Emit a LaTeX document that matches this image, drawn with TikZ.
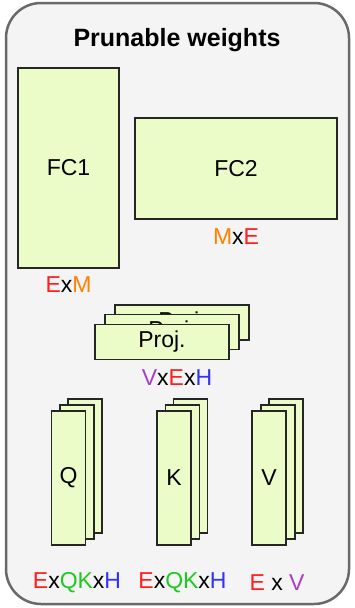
\documentclass[tikz,border=0pt]{standalone}
\usepackage{fontspec}
\setmainfont{Liberation Sans}
\definecolor{boxfill}{RGB}{236,252,200}
\definecolor{panel}{RGB}{244,244,244}
\definecolor{panelline}{RGB}{105,105,105}
\definecolor{cE}{RGB}{255,30,30}
\definecolor{cM}{RGB}{255,128,0}
\definecolor{cQK}{RGB}{30,200,30}
\definecolor{cH}{RGB}{50,50,255}
\definecolor{cV}{RGB}{170,60,200}
\tikzset{
  wbox/.style={draw=black!85, fill=boxfill, line width=1.3pt, inner sep=0pt, font=\fontsize{23}{27}\selectfont},
  dimlabel/.style={inner sep=0pt, font=\fontsize{23}{27}\selectfont},
}
\begin{document}
\begin{tikzpicture}[x=1pt,y=-1pt]
\useasboundingbox (0,0) rectangle (354,608);
\draw[fill=panel, draw=panelline, line width=2.5pt, rounded corners=35pt] (6,3) rectangle (349,604);
\node[font=\fontsize{25}{30}\selectfont\bfseries] (title) at (177,40) {Prunable weights};
% FC layers
\node[wbox, minimum width=101pt, minimum height=200pt] (fc1) at (68.5,168) {FC1};
\node[wbox, minimum width=202pt, minimum height=101pt] (fc2) at (236,168.5) {FC2};
\node[dimlabel] (l1) at (68.5,285) {\textcolor{cE}{E}x\textcolor{cM}{M}};
\node[dimlabel] (l2) at (236,237) {\textcolor{cM}{M}x\textcolor{cE}{E}};
% Proj stack
\node[wbox, minimum width=134pt, minimum height=35pt] (p3) at (182,322.5) {Proj.};
\node[wbox, minimum width=134pt, minimum height=35pt] (p2) at (172,332) {Proj.};
\node[wbox, minimum width=134pt, minimum height=35pt] (p1) at (162,342) {Proj.};
\node[dimlabel] (l3) at (177,378) {\textcolor{cV}{V}x\textcolor{cE}{E}x\textcolor{cH}{H}};
% Q stack
\node[wbox, minimum width=34pt, minimum height=134pt] (q3) at (85,466) {};
\node[wbox, minimum width=34pt, minimum height=134pt] (q2) at (77,472) {};
\node[wbox, minimum width=34pt, minimum height=134pt] (q1) at (68.5,478) {Q};
% K stack
\node[wbox, minimum width=34pt, minimum height=134pt] (k3) at (190.5,466) {};
\node[wbox, minimum width=34pt, minimum height=134pt] (k2) at (182.5,472) {};
\node[wbox, minimum width=34pt, minimum height=134pt] (k1) at (174,478) {K};
% V stack
\node[wbox, minimum width=34pt, minimum height=134pt] (v3) at (286,466) {};
\node[wbox, minimum width=34pt, minimum height=134pt] (v2) at (278,472) {};
\node[wbox, minimum width=34pt, minimum height=134pt] (v1) at (269,478) {V};
% bottom labels
\node[dimlabel] (lq) at (77,583) {\textcolor{cE}{E}x\textcolor{cQK}{QK}x\textcolor{cH}{H}};
\node[dimlabel] (lk) at (182.5,583) {\textcolor{cE}{E}x\textcolor{cQK}{QK}x\textcolor{cH}{H}};
\node[dimlabel] (lv) at (277,583) {\textcolor{cE}{E} x \textcolor{cV}{V}};
\end{tikzpicture}
\end{document}
